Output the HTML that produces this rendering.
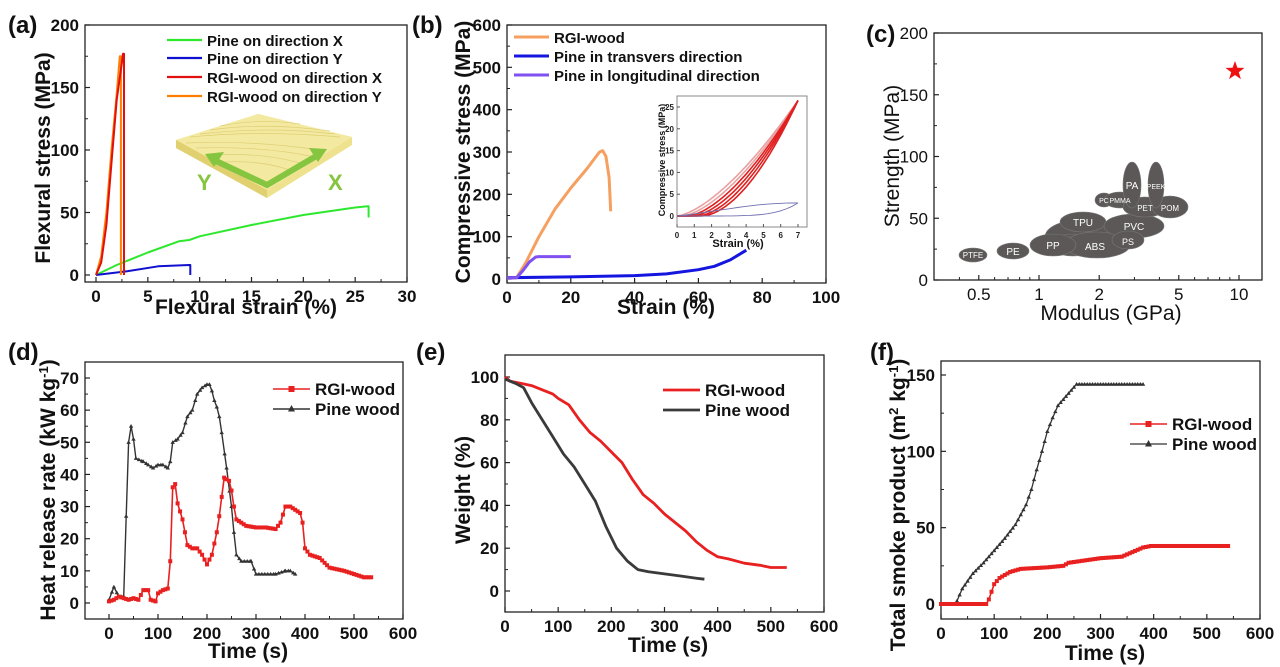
<!DOCTYPE html>
<html><head><meta charset="utf-8"><style>
body{margin:0;background:#fff;}
svg{display:block;font-family:"Liberation Sans",Arial,sans-serif;}
</style></head><body>
<svg id="s" width="1280" height="667" viewBox="0 0 1280 667" xmlns="http://www.w3.org/2000/svg">
<rect width="1280" height="667" fill="#fff"/>
<!-- wood board -->
<polygon points="176,140 258,114 352,137 267,190 267,198 176,148" fill="#e9dc86"/>
<polygon points="176,140 258,114 352,137 267,190" fill="#f3e9a0"/>
<polygon points="176,140 267,190 267,198 176,148" fill="#e0d070"/>
<polygon points="267,190 352,137 352,145 267,198" fill="#efe28e"/>
<g stroke="#d9c86a" stroke-width="0.7" fill="none" opacity="0.8">
<path d="M190,137 Q260,130 340,137"/><path d="M200,134 Q270,126 335,134"/><path d="M210,130 Q265,122 330,131"/><path d="M186,143 Q250,140 320,150"/><path d="M196,148 Q260,146 310,156"/><path d="M210,155 Q260,152 300,163"/><path d="M225,162 Q260,160 290,170"/><path d="M220,126 Q260,118 300,124"/>
</g>
<g stroke="#86c540" stroke-width="6" fill="none" stroke-linejoin="miter">
<polyline points="214,160 267,185 318,155"/>
</g>
<polygon points="205,154 224,152 214,167" fill="#86c540"/>
<polygon points="327,149 309,148 318,162" fill="#86c540"/>
<text x="197" y="190" font-size="22" font-weight="bold" fill="#86c540">Y</text>
<text x="328" y="190" font-size="22" font-weight="bold" fill="#86c540">X</text>
<g id="g"></g>
</svg>
<script>
const NS="http://www.w3.org/2000/svg";
const G=document.getElementById('g');
function el(t,a,txt){const e=document.createElementNS(NS,t);for(const k in a)e.setAttribute(k,a[k]);if(txt!==undefined)e.textContent=txt;G.appendChild(e);return e;}
function lin(a0,p0,a1,p1){return v=>p0+(v-a0)*(p1-p0)/(a1-a0);}
function axes(o){
 el('rect',{x:o.l,y:o.t,width:o.r-o.l,height:o.b-o.t,fill:'none',stroke:'#222','stroke-width':1.3});
 const fw=o.fw||'bold';
 o.xt.forEach(v=>{const x=o.X(v);el('line',{x1:x,y1:o.b,x2:x,y2:o.b-5,stroke:'#222','stroke-width':1.2});
  el('text',{x:x,y:o.b+20,'font-size':o.fs||17,'font-weight':fw,'text-anchor':'middle',fill:'#111'},o.xf?o.xf(v):v);});
 (o.xm||[]).forEach(v=>{const x=o.X(v);el('line',{x1:x,y1:o.b,x2:x,y2:o.b-3,stroke:'#222','stroke-width':1});});
 o.yt.forEach(v=>{const y=o.Y(v);el('line',{x1:o.l,y1:y,x2:o.l+5,y2:y,stroke:'#222','stroke-width':1.2});
  el('text',{x:o.l-6,y:y+6,'font-size':o.fs||17,'font-weight':fw,'text-anchor':'end',fill:'#111'},v);});
 (o.ym||[]).forEach(v=>{const y=o.Y(v);el('line',{x1:o.l,y1:y,x2:o.l+3,y2:y,stroke:'#222','stroke-width':1});});
 el('text',{x:o.xtx[0],y:o.xtx[1],'font-size':o.tfs||21,'font-weight':fw,'text-anchor':'middle',fill:'#111'},o.xtitle);
 const t=el('text',{x:0,y:0,'font-size':o.tfs||21,'font-weight':fw,'text-anchor':'middle',fill:'#111',transform:`translate(${o.ytx[0]},${o.ytx[1]}) rotate(-90)`});
 t.innerHTML=o.ytitle;
 el('text',{x:o.lab[0],y:o.lab[1],'font-size':24,'font-weight':'bold',fill:'#111'},o.label);
}
function line(o,d,c,w,extra){const p=[];for(let i=0;i<d.length;i+=2)p.push(o.X(d[i]).toFixed(1)+','+o.Y(d[i+1]).toFixed(1));
 const a={points:p.join(' '),fill:'none',stroke:c,'stroke-width':w||2,'stroke-linejoin':'round'};Object.assign(a,extra||{});el('polyline',a);}
function interp(d,step){const out=[];for(let i=0;i<d.length-2;i+=2){const x0=d[i],y0=d[i+1],x1=d[i+2],y1=d[i+3];for(let x=x0;x<x1;x+=step)out.push([x,y0+(y1-y0)*(x-x0)/(x1-x0)]);}out.push([d[d.length-2],d[d.length-1]]);return out;}
function sq(o,pts,c,s){pts.forEach(p=>el('rect',{x:o.X(p[0])-s/2,y:o.Y(p[1])-s/2,width:s,height:s,fill:c}));}
function tri(o,pts,c,s){pts.forEach(p=>{const x=o.X(p[0]),y=o.Y(p[1]);el('polygon',{points:`${x},${y-s} ${x-s},${y+s*0.7} ${x+s},${y+s*0.7}`,fill:c});});}
function leg(x1,x2,y,c,txt,fs,w,mk){el('line',{x1:x1,y1:y,x2:x2,y2:y,stroke:c,'stroke-width':w||2.2});
 if(mk==='s')el('rect',{x:(x1+x2)/2-3,y:y-3,width:6,height:6,fill:c});
 if(mk==='t'){const m=(x1+x2)/2;el('polygon',{points:`${m},${y-4} ${m-3.5},${y+2.5} ${m+3.5},${y+2.5}`,fill:c});}
 el('text',{x:x2+5,y:y+6,'font-size':fs,'font-weight':'bold',fill:'#111'},txt);}

// (a)
let A={l:85,r:407,t:25,b:282,X:lin(0,96,30,407),Y:lin(0,275,200,25),xt:[0,5,10,15,20,25,30],xm:[2.5,7.5,12.5,17.5,22.5,27.5],yt:[0,50,100,150,200],ym:[25,75,125,175],
 xtitle:'Flexural strain (%)',xtx:[246,314],ytitle:'Flexural stress (MPa)',ytx:[50,158],label:'(a)',lab:[8,33]};
axes(A);
line(A,[0,0,2,8,5,18,8,27,9,28,10,31,15,40,20,48,25,54,26.2,55,26.3,55,26.3,46],'#2ee82e',2);
line(A,[0,0,3,3,6,7,9,8,9.1,8,9.1,0],'#1010d0',2);
line(A,[0,0,0.5,15,1,50,1.5,100,2,145,2.3,175,2.4,175,2.4,0],'#ff8000',2);
line(A,[0,0,0.5,10,1,40,1.5,90,2,140,2.5,170,2.6,177,2.7,177,2.7,0],'#e01010',2);
leg(167,202,40,'#2ee82e','Pine on direction X',15);
leg(167,202,58,'#1010d0','Pine on direction Y',15);
leg(167,202,77,'#e01010','RGI-wood on direction X',15);
leg(167,202,96,'#ff8000','RGI-wood on direction Y',15);

// (b)
let B={l:507,r:826,t:25,b:283,X:lin(0,507,100,826),Y:lin(0,279,600,25),xt:[0,20,40,60,80,100],xm:[10,30,50,70,90],yt:[0,100,200,300,400,500,600],ym:[50,150,250,350,450,550],
 xtitle:'Strain (%)',xtx:[666,314],ytitle:'Compressive stress (MPa)',ytx:[470,152],label:'(b)',lab:[412,33]};
axes(B);
line(B,[0,3,20,5,40,8,50,12,60,22,65,30,70,45,75,68],'#1515e0',3);
line(B,[0,2,3,3,6,40,10,100,15,165,20,215,25,260,29,300,30,303,31,290,32,240,32.5,160],'#f5a060',3);
line(B,[0,2,3,3,5,20,7,40,9,52,10,53,20,53],'#8050f0',3);
leg(514,549,37,'#f5a060','RGI-wood',15,3);
leg(514,549,56,'#1515e0','Pine in transvers direction',15,3);
leg(514,549,75,'#8050f0','Pine in longitudinal direction',15,3);
// inset
let I={l:677,r:807,t:96,b:227,X:lin(0,677,7,798),Y:lin(0,216,25,107)};
el('rect',{x:677,y:96,width:130,height:131,fill:'#fff',stroke:'#888','stroke-width':1});
[0,1,2,3,4,5,6,7].forEach(v=>{el('line',{x1:I.X(v),y1:227,x2:I.X(v),y2:224,stroke:'#555'});el('text',{x:I.X(v),y:238,'font-size':8,'font-weight':'bold','text-anchor':'middle',fill:'#222'},v);});
[0,5,10,15,20,25].forEach(v=>{el('line',{x1:677,y1:I.Y(v),x2:680,y2:I.Y(v),stroke:'#555'});el('text',{x:674,y:I.Y(v)+3,'font-size':8,'font-weight':'bold','text-anchor':'end',fill:'#222'},v);});
el('text',{x:738,y:247,'font-size':11,'font-weight':'bold','text-anchor':'middle',fill:'#111'},'Strain (%)');
el('text',{x:0,y:0,'font-size':9,'font-weight':'bold','text-anchor':'middle',fill:'#111',transform:'translate(665,160) rotate(-90)'},'Compressive stress (MPa)');
function curve(o,f,a,b,n){const d=[];for(let i=0;i<=n;i++){const x=a+(b-a)*i/n;d.push(x,f(x));}return d;}
for(let k=0;k<5;k++){const s=0.25*k;
 line(I,curve(I,x=>26.5*Math.pow(Math.max(0,(x-0.3*k)/(7-0.3*k)),1.5+0.05*k),0,7,30),k<2?'#e8a0a0':'#e02020',1.6);}
line(I,curve(I,x=>26.5*Math.pow(Math.max(0,(x-1.4)/5.6),1.8),0,7,30),'#e02020',1.6);
line(I,curve(I,x=>3*x/7*(1+0.3*Math.sin(Math.PI*x/7)),0,7,20),'#7070b0',0.9);
line(I,curve(I,x=>3*Math.pow(x/7,6),0,7,20),'#7070b0',0.9);

// (c)
let C={l:934,r:1262,t:33,b:280,X:v=>1039+200*Math.log10(v),Y:lin(0,280,200,33),xt:[0.5,1,2,5,10],xm:[0.4,0.6,0.7,0.8,0.9,3,4,6,7,8,9],yt:[0,50,100,150,200],ym:[25,75,125,175],fw:'normal',fs:17,
 xtitle:'Modulus (GPa)',xtx:[1111,320],ytitle:'Strength (MPa)',ytx:[899,156],label:'(c)',lab:[866,42]};
axes(C);
const E=[[1085,237,40,18],[1073,245,23,11],[1097,245,33,13],[1083,222,23,10],[1134,226,30,12],[1128,240,16,9],[1104,200,9,7],[1120,200,16,8],[1145,207,22,10],[1170,207,18,11],[1132,185,9,23],[1156,185,8,23],[973,255,14,7],[1013,251,16,8],[1053,245,23,11]];
E.forEach(e=>el('ellipse',{cx:e[0],cy:e[1],rx:e[2],ry:e[3],fill:'#5c5858',stroke:'#777','stroke-width':0.6}));
[['PTFE',973,258,8],['PE',1013,255,10],['PP',1053,249,10],['ABS',1095,250,10],['TPU',1083,226,10],['PVC',1134,230,10],['PS',1128,245,9],['PC',1104,203,7],['PMMA',1120,203,7],['PET',1145,211,8],['POM',1170,211,8],['PA',1132,189,10],['PEEK',1156,189,7]].forEach(t=>
 el('text',{x:t[1],y:t[2],'font-size':t[3],'text-anchor':'middle',fill:'#fff'},t[0]));
(function(){const cx=1235,cy=71,R=10,r=4;let p=[];for(let i=0;i<10;i++){const a=-Math.PI/2+i*Math.PI/5,rr=i%2?r:R;p.push((cx+rr*Math.cos(a)).toFixed(1)+','+(cy+rr*Math.sin(a)).toFixed(1));}el('polygon',{points:p.join(' '),fill:'#f01010'});})();

// (d)
let D={l:85,r:403,t:362,b:619,X:lin(0,109,600,403),Y:lin(0,603,70,378),xt:[0,100,200,300,400,500,600],xm:[50,150,250,350,450,550],yt:[0,10,20,30,40,50,60,70],ym:[5,15,25,35,45,55,65],
 xtitle:'Time (s)',xtx:[248,658],ytitle:'Heat release rate (kW kg<tspan dy="-7" font-size="13">-1</tspan><tspan dy="7">)</tspan>',ytx:[55,490],label:'(d)',lab:[8,360]};
axes(D);
const dr=[0,0.5,10,1,20,2,30,1.5,40,1,50,1.5,60,1,70,4,80,4,85,1,95,0.5,100,3,110,4,120,4.5,125,13,130,36,135,37,140,31,150,26,160,18,170,17,180,17,190,15,200,12,210,15,220,22,225,27,230,33,235,39,245,38,250,35,255,30,260,26,270,25,280,24,300,23.5,320,23.5,340,23,350,25,360,30,370,30,380,29,390,28,395,25,400,17,410,15,430,14,450,11,480,10,500,9,520,8,535,8];
const dp=[0,1,10,5,20,2,30,2,35,27,40,50,45,55,50,51,55,45,70,44,80,43,90,42,100,43,110,43,120,42,125,44,130,50,140,51,150,53,160,58,170,60,180,65,190,67,200,68,205,68,210,66,215,63,220,61,225,58,230,53,240,42,250,30,255,22,260,15,270,13,290,13,300,9,330,9,340,9,360,10,370,10,380,9];
line(D,dp,'#333',1.4);tri(D,interp(dp,6),'#333',2.2);
line(D,dr,'#e82020',1.6);sq(D,interp(dr,5),'#e82020',4);
leg(273,310,389,'#e82020','RGI-wood',17,1.6,'s');
leg(273,310,409,'#333','Pine wood',17,1.4,'t');

// (e)
let Ee={l:505,r:824,t:355,b:612,X:lin(0,505,600,824),Y:lin(0,591,100,377),xt:[0,100,200,300,400,500,600],xm:[50,150,250,350,450,550],yt:[0,20,40,60,80,100],ym:[10,30,50,70,90],
 xtitle:'Time (s)',xtx:[668,652],ytitle:'Weight (%)',ytx:[470,490],label:'(e)',lab:[416,360]};
axes(Ee);
line(Ee,[0,100,10,98,30,97,50,96,70,94,90,92,100,90,120,87,140,80,160,74,180,70,200,65,220,60,240,52,260,45,280,41,300,36,320,32,340,28,360,23,380,19,400,16,420,15,450,13,480,12,500,11,530,11],'#e82020',2.8);
line(Ee,[0,99,20,97,35,95,50,88,70,80,90,72,110,64,130,58,150,50,170,42,190,30,210,20,230,14,250,10,270,9,300,8,330,7,360,6,375,5.5],'#3a3a3a',2.8);
leg(663,700,390,'#e82020','RGI-wood',17,2.8);
leg(663,700,410,'#3a3a3a','Pine wood',17,2.8);

// (f)
let F={l:941,r:1260,t:361,b:619,X:lin(0,941,600,1260),Y:lin(0,604,150,375),xt:[0,100,200,300,400,500,600],xm:[50,150,250,350,450,550],yt:[0,50,100,150],ym:[25,75,125],
 xtitle:'Time (s)',xtx:[1105,660],ytitle:'Total smoke product (m<tspan dy="-7" font-size="13">2</tspan><tspan dy="7"> kg</tspan><tspan dy="-7" font-size="13">-1</tspan><tspan dy="7">)</tspan>',ytx:[905,505],label:'(f)',lab:[870,360]};
axes(F);
const fp=[0,0,25,0,30,2,40,10,50,15,60,20,80,27,100,35,120,43,140,52,160,65,170,75,180,88,190,100,200,113,210,122,220,130,240,138,255,144,380,144];
const fr=[0,0,85,0,90,3,95,8,100,13,110,17,130,21,150,23,200,24,230,25,240,27,260,28,300,30,340,31,360,34,380,37,395,38,540,38];
line(F,fp,'#333',1.3);tri(F,interp(fp,5),'#333',2.2);
line(F,fr,'#e82020',1.6);sq(F,interp(fr,5),'#e82020',4);
leg(1130,1167,424,'#e82020','RGI-wood',17,1.6,'s');
leg(1130,1167,444,'#333','Pine wood',17,1.3,'t');
</script>
</body></html>
